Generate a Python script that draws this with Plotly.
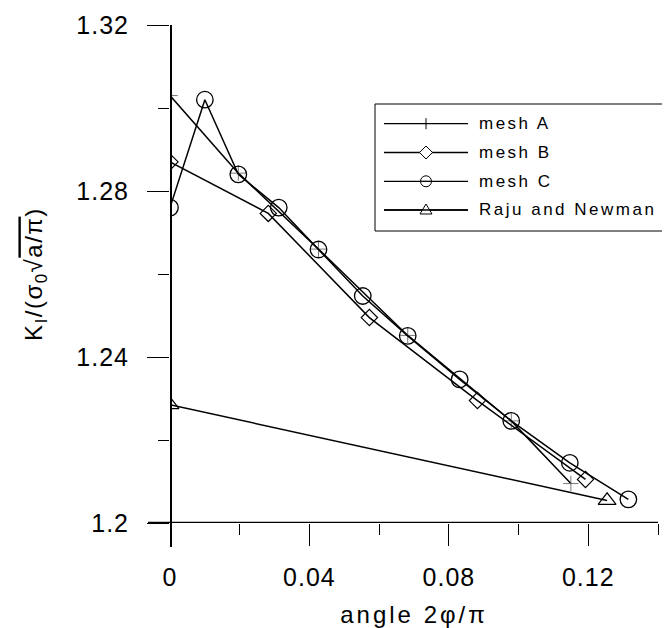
import plotly.graph_objects as go

# ---- data ----
meshA_x = [0.0, 0.0196, 0.0426, 0.0682, 0.0979, 0.1150]
meshA_y = [1.3030, 1.2843, 1.2660, 1.2452, 1.2246, 1.2095]

meshB_x = [0.0, 0.0282, 0.0572, 0.0882, 0.1192]
meshB_y = [1.2870, 1.2746, 1.2495, 1.2295, 1.2105]

meshC_x = [0.0, 0.0100, 0.0196, 0.0312, 0.0426, 0.0553, 0.0682, 0.0831, 0.0979, 0.1147, 0.1315]
meshC_y = [1.2760, 1.3020, 1.2840, 1.2760, 1.2659, 1.2547, 1.2451, 1.2346, 1.2246, 1.2145, 1.2057]

raju_x = [0.0, 0.1254]
raju_y = [1.2285, 1.2054]

series_names = ["mesh A", "mesh B", "mesh C", "Raju and Newman"]

x_ticks = [0, 0.04, 0.08, 0.12]
x_ticklabels = ["0", "0.04", "0.08", "0.12"]
x_minor = [0.02, 0.06, 0.10, 0.14]
y_ticks = [1.2, 1.24, 1.28, 1.32]
y_ticklabels = ["1.2", "1.24", "1.28", "1.32"]
y_minor = [1.22, 1.26, 1.30]

FONT = "Liberation Sans, Arial, sans-serif"
LW = 1.5
W, H = 670, 628
ML, MR, MT, MB = 162, 20, 17, 113
PW, PH = W - ML - MR, H - MT - MB


def px(xp):  # pixel -> paper x
    return (xp - ML) / PW


def py(yp):  # pixel -> paper y
    return (H - MB - yp) / PH


def spaced(text, sp):
    return "<span style='letter-spacing:%spx'>%s</span>" % (sp, text)


fig = go.Figure()
fig.add_trace(go.Scatter(x=meshA_x, y=meshA_y, mode="lines+markers", name=series_names[0],
                         line=dict(color="black", width=LW),
                         marker=dict(symbol="cross-thin", size=11, color="#555555",
                                     line=dict(color="#555555", width=0.8))))
fig.add_trace(go.Scatter(x=meshB_x, y=meshB_y, mode="lines+markers", name=series_names[1],
                         line=dict(color="black", width=LW),
                         marker=dict(symbol="diamond-open", size=12.5, color="black",
                                     line=dict(color="black", width=1.2))))
fig.add_trace(go.Scatter(x=meshC_x, y=meshC_y, mode="lines+markers", name=series_names[2],
                         line=dict(color="black", width=LW),
                         marker=dict(symbol="circle-open", size=16.5, color="black",
                                     line=dict(color="black", width=1.3))))
fig.add_trace(go.Scatter(x=raju_x, y=raju_y, mode="lines+markers", name=series_names[3],
                         line=dict(color="black", width=LW),
                         marker=dict(symbol="triangle-up-open", size=15.5, color="black",
                                     line=dict(color="black", width=1.2))))

axis_common = dict(showgrid=False, zeroline=False, showline=False, automargin=False,
                   ticks="outside", ticklen=22, tickcolor="black", tickwidth=1,
                   tickfont=dict(family=FONT, size=25, color="black"))

fig.update_xaxes(range=[0, 0.14], tickmode="array", tickvals=x_ticks,
                 ticktext=[spaced(t, 1) for t in x_ticklabels],
                 ticklabelstandoff=10,
                 minor=dict(tickmode="array", tickvals=x_minor, ticks="outside", ticklen=11,
                            tickcolor="black", tickwidth=1),
                 title=dict(text=spaced("angle 2φ/π", 3),
                            font=dict(family=FONT, size=24, color="black"), standoff=16),
                 **axis_common)
fig.update_yaxes(range=[1.2, 1.32], tickmode="array", tickvals=y_ticks,
                 ticktext=[spaced(t, 1) for t in y_ticklabels],
                 ticklabelstandoff=13,
                 minor=dict(tickmode="array", tickvals=y_minor, ticks="outside", ticklen=11,
                            tickcolor="black", tickwidth=1),
                 title=dict(text=spaced("K<sub>I</sub>/(σ<sub>0</sub>√<span style='text-decoration:overline'>a/π</span>)", 1.5),
                            font=dict(family=FONT, size=24, color="black"), standoff=26),
                 **axis_common)

shapes = []
# axis lines drawn through the origin
shapes.append(dict(type="line", xref="x", yref="paper", x0=0, x1=0, y0=1, y1=py(539),
                   line=dict(color="black", width=4)))
shapes.append(dict(type="line", xref="paper", yref="y", x0=px(140), x1=1, y0=1.2, y1=1.2,
                   line=dict(color="black", width=2.5)))

# legend (drawn by hand to match the long sample lines)
box = (367, 96, 659, 223)
shapes.append(dict(type="rect", xref="paper", yref="paper",
                   x0=px(box[0]), x1=px(box[2]), y0=py(box[3]), y1=py(box[1]),
                   line=dict(color="black", width=1), fillcolor="white", layer="above"))
rows = [115.7, 144.5, 173.3, 202.0]
lx0, lx1, mx, tx = 376, 460, 418, 469
ms = 5.5  # half marker size in px
annotations = []
for i, (name, yy) in enumerate(zip(series_names, rows)):
    shapes.append(dict(type="line", xref="paper", yref="paper", x0=px(lx0), x1=px(lx1),
                       y0=py(yy), y1=py(yy), line=dict(color="black", width=1.3), layer="above"))
    if i == 0:
        shapes.append(dict(type="line", xref="paper", yref="paper", x0=px(mx), x1=px(mx),
                           y0=py(yy - ms), y1=py(yy + ms), line=dict(color="black", width=1), layer="above"))
    elif i == 1:
        d = 6.5
        path = "M %f %f L %f %f L %f %f L %f %f Z" % (
            px(mx), py(yy - d), px(mx + d), py(yy), px(mx), py(yy + d), px(mx - d), py(yy))
        shapes.append(dict(type="path", xref="paper", yref="paper", path=path,
                           line=dict(color="black", width=1), fillcolor="white", layer="above"))
    elif i == 2:
        shapes.append(dict(type="circle", xref="paper", yref="paper",
                           x0=px(mx - ms), x1=px(mx + ms), y0=py(yy + ms), y1=py(yy - ms),
                           line=dict(color="black", width=1), fillcolor="white", layer="above"))
        shapes.append(dict(type="line", xref="paper", yref="paper", x0=px(mx - ms), x1=px(mx + ms),
                           y0=py(yy), y1=py(yy), line=dict(color="black", width=1.3), layer="above"))
    else:
        path = "M %f %f L %f %f L %f %f Z" % (
            px(mx - 6), py(yy + 4), px(mx + 6), py(yy + 4), px(mx), py(yy - 6))
        shapes.append(dict(type="path", xref="paper", yref="paper", path=path,
                           line=dict(color="black", width=1), fillcolor="white", layer="above"))
        shapes.append(dict(type="line", xref="paper", yref="paper", x0=px(lx0), x1=px(lx1),
                           y0=py(yy), y1=py(yy), line=dict(color="black", width=1.3), layer="above"))
    annotations.append(dict(xref="paper", yref="paper", x=px(tx), y=py(yy), xanchor="left",
                            yanchor="middle", showarrow=False, text=spaced(name, 2.5),
                            font=dict(family=FONT, size=17, color="black")))

fig.update_layout(
    width=W, height=H,
    margin=dict(l=ML, r=MR, t=MT, b=MB),
    paper_bgcolor="white", plot_bgcolor="white",
    showlegend=False,
    shapes=shapes, annotations=annotations,
    font=dict(family=FONT, color="black"),
)

fig.write_html("out.html")
